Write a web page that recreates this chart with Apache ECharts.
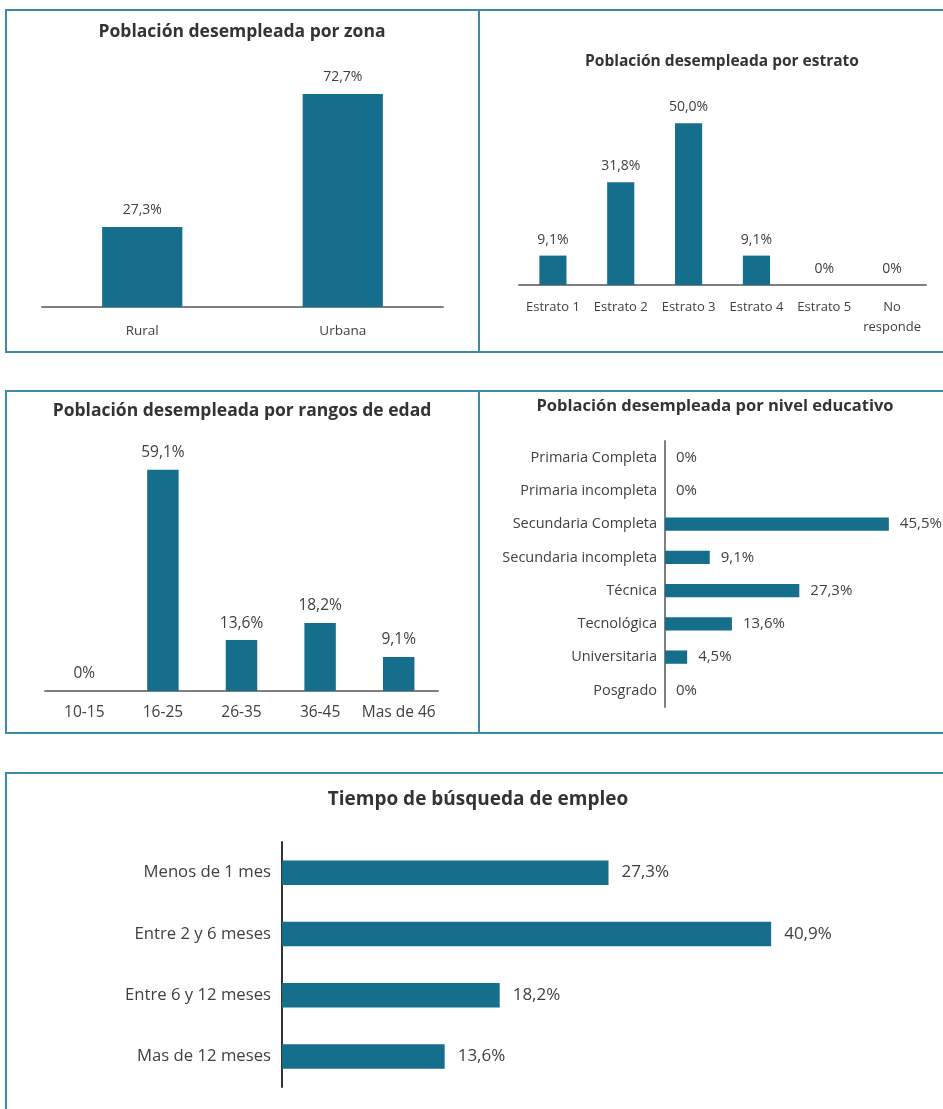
<!DOCTYPE html>
<html>
<head>
<meta charset="utf-8">
<script src="https://cdn.jsdelivr.net/npm/echarts@6/dist/echarts.min.js"></script>
<style>
html,body{margin:0;padding:0;background:#fff;}
#c{width:943px;height:1109px;}
</style>
</head>
<body>
<div id="c"></div>
<script>
// ---- Data ----
const zonaCats = ['Rural', 'Urbana'];
const zonaVals = [27.3, 72.7];

const estratoCats = ['Estrato 1', 'Estrato 2', 'Estrato 3', 'Estrato 4', 'Estrato 5', 'No\nresponde'];
const estratoVals = [9.1, 31.8, 50.0, 9.1, 0, 0];

const edadCats = ['10-15', '16-25', '26-35', '36-45', 'Mas de 46'];
const edadVals = [0, 59.1, 13.6, 18.2, 9.1];

const eduCats = ['Primaria Completa', 'Primaria incompleta', 'Secundaria Completa', 'Secundaria incompleta', 'Técnica', 'Tecnológica', 'Universitaria', 'Posgrado'];
const eduVals = [0, 0, 45.5, 9.1, 27.3, 13.6, 4.5, 0];

const tiempoCats = ['Menos de 1 mes', 'Entre 2 y 6 meses', 'Entre 6 y 12 meses', 'Mas de 12 meses'];
const tiempoVals = [27.3, 40.9, 18.2, 13.6];

const titles = [
  'Población desempleada por zona',
  'Población desempleada por estrato',
  'Población desempleada por rangos de edad',
  'Población desempleada por nivel educativo',
  'Tiempo de búsqueda de empleo'
];

// ---- Styling ----
const FONT = '"Open Sans", "Noto Sans", sans-serif';
const BAR = '#146e8c';
const BOX = '#3a8aa8';
const TXT = '#404040';
const fmt = p => (p.value === 0 ? '0%' : p.value.toFixed(1).replace('.', ',') + '%');

const chart = echarts.init(document.getElementById('c'), null, {renderer: 'canvas'});

function vBarAxes(gi, cats, max, margin, axisColor, fs) {
  return {
    x: {gridIndex: gi, type: 'category', data: cats,
        axisLine: {show: true, lineStyle: {color: axisColor, width: 2}},
        axisTick: {show: false},
        axisLabel: {color: TXT, fontFamily: FONT, fontSize: fs, margin: margin, interval: 0, lineHeight: 20}},
    y: {gridIndex: gi, type: 'value', min: 0, max: max, show: false, splitLine: {show: false}}
  };
}
function hBarAxes(gi, cats, max, margin, axisColor, fs) {
  return {
    x: {gridIndex: gi, type: 'value', min: 0, max: max, show: false, splitLine: {show: false}},
    y: {gridIndex: gi, type: 'category', data: cats, inverse: true,
        axisLine: {show: true, lineStyle: {color: axisColor, width: 2}},
        axisTick: {show: false},
        axisLabel: {color: TXT, fontFamily: FONT, fontSize: fs, margin: margin, interval: 0}}
  };
}

const a1 = vBarAxes(0, zonaCats, 100, 14, '#7f7f7f', 13.5);
const a2 = vBarAxes(1, estratoCats, 60, 12, '#7f7f7f', 13);
const a3 = vBarAxes(2, edadCats, 70, 12, '#7f7f7f', 15.5);
const a4 = hBarAxes(3, eduCats, 50, 8, '#7f7f7f', 14.5);
const a5 = hBarAxes(4, tiempoCats, 50, 11, '#333333', 16.7);

function barSeries(i, vals, pos, fs, dist) {
  return {
    type: 'bar', xAxisIndex: i, yAxisIndex: i, data: vals, barWidth: '40%',
    itemStyle: {color: BAR},
    label: {show: true, position: pos, distance: dist, formatter: fmt,
            color: TXT, fontFamily: FONT, fontSize: fs},
    silent: true, animation: false
  };
}

function titleText(txt, x, y, fs) {
  return {type: 'text', x: x, y: y, silent: true,
    style: {text: txt, fill: '#333333', font: 'bold ' + fs + 'px ' + FONT,
            textAlign: 'center', textVerticalAlign: 'middle'}};
}
function box(x, y, w, h) {
  return {type: 'rect', silent: true, shape: {x: x, y: y, width: w, height: h},
          style: {fill: 'none', stroke: BOX, lineWidth: 2}};
}

chart.setOption({
  animation: false,
  backgroundColor: '#ffffff',
  grid: [
    {left: 42, width: 401, top: 14, height: 293},
    {left: 519, width: 407, top: 91, height: 194},
    {left: 45, width: 393, top: 429, height: 262},
    {left: 665, width: 246, top: 441, height: 266},
    {left: 282, width: 598, top: 842, height: 245}
  ],
  xAxis: [a1.x, a2.x, a3.x, a4.x, a5.x],
  yAxis: [a1.y, a2.y, a3.y, a4.y, a5.y],
  series: [
    barSeries(0, zonaVals, 'top', 14, 10),
    barSeries(1, estratoVals, 'top', 14, 9),
    barSeries(2, edadVals, 'top', 15.5, 9),
    barSeries(3, eduVals, 'right', 15, 11),
    barSeries(4, tiempoVals, 'right', 17, 13)
  ],
  graphic: [
    box(6, 10, 473, 342),
    box(479, 10, 480, 342),
    box(6, 391, 473, 342),
    box(479, 391, 480, 342),
    box(6, 773, 960, 400),
    titleText(titles[0], 242, 32, 17.5),
    titleText(titles[1], 722, 62, 15.5),
    titleText(titles[2], 242, 411, 17.5),
    titleText(titles[3], 715, 406, 16.5),
    titleText(titles[4], 478, 800, 19)
  ]
});
</script>
</body>
</html>
